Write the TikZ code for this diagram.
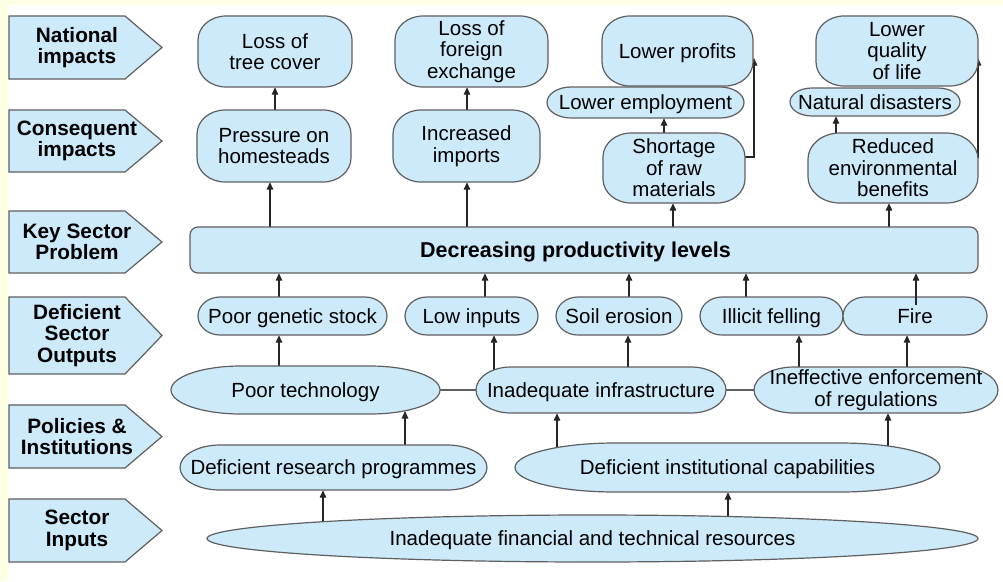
\documentclass[tikz,border=0pt]{standalone}
\usepackage{fontspec}
\setmainfont{Liberation Sans}
\usetikzlibrary{arrows.meta,calc}
\pgfdeclarelayer{paper}
\pgfdeclarelayer{background}
\pgfsetlayers{paper,background,main}
\definecolor{nodeblue}{RGB}{204,234,250}
\definecolor{edgegrey}{RGB}{95,95,95}
\definecolor{paleyellow}{RGB}{255,255,228}

\tikzset{
  shapeline/.style={draw=edgegrey, fill=nodeblue, line width=1.2pt},
  boxtext/.style={inner sep=0pt, align=center, font=\fontsize{20.5}{21.5}\selectfont},
  oneline/.style={text height=14.7pt, text depth=0pt},
  rowtext/.style={inner sep=0pt, align=center, font=\bfseries\fontsize{20.8}{21.5}\selectfont},
  arr/.style={draw=black!85, line width=1.3pt, -{Triangle[length=7.5pt,width=6.5pt]}},
  link/.style={draw=edgegrey, line width=1.3pt},
}

% box with elliptical corners: name, cx, cy, width, height, rx, ry, text, node options  (cy measured downward)
\newcommand\rbox[9]{%
  \pgfmathsetmacro\bxa{#2-#4/2}\pgfmathsetmacro\bxb{#2+#4/2}%
  \pgfmathsetmacro\bya{-#3+#5/2}\pgfmathsetmacro\byb{-#3-#5/2}%
  \path[shapeline] (\bxa+#6,\bya) -- (\bxb-#6,\bya)
    arc[start angle=90,end angle=0,x radius=#6,y radius=#7] -- (\bxb,\byb+#7)
    arc[start angle=0,end angle=-90,x radius=#6,y radius=#7] -- (\bxa+#6,\byb)
    arc[start angle=270,end angle=180,x radius=#6,y radius=#7] -- (\bxa,\bya-#7)
    arc[start angle=180,end angle=90,x radius=#6,y radius=#7] -- cycle;
  \node[boxtext, minimum width=#4pt, minimum height=#5pt, #9] (#1) at (#2,-#3) {#8};
}

% level tag on the left: name, top, bottom, text
\newcommand\leveltag[4]{%
  \pgfmathsetmacro\lmid{-(#2+#3)/2}%
  \path[shapeline] (9,-#2) -- (125,-#2) -- (162,\lmid) -- (125,-#3) -- (9,-#3) -- cycle;
  \node[rowtext] (#1) at (77,\lmid) {#4};
}

\begin{document}
\begin{tikzpicture}[x=1pt,y=1pt]
  % page background
  \begin{pgfonlayer}{paper}
    \fill[white] (0,0) rectangle (1003,-581);
    \fill[paleyellow] (0,0) rectangle (1003,-5);
    \fill[paleyellow] (0,0) rectangle (8,-581);
  \end{pgfonlayer}
  \useasboundingbox (0,0) rectangle (1003,-581);

  % level tags
  \leveltag{nat}{16}{79}{National\\impacts}
  \leveltag{con}{110}{172}{Consequent\\impacts}
  \leveltag{key}{211}{273}{Key Sector\\Problem}
  \leveltag{dso}{297}{374}{Deficient\\Sector\\Outputs}
  \leveltag{pol}{405}{468}{Policies \&\\Institutions}
  \leveltag{sin}{499}{562}{Sector\\Inputs}

  % national impacts
  \rbox{ltc}{275}{51.5}{154}{71}{28}{24}{Loss of\\tree cover}{}
  \rbox{lfe}{471.5}{51.5}{153}{71}{28}{24}{Loss of\\foreign\\exchange}{}
  \rbox{lpr}{677.5}{51}{151}{70}{28}{24}{Lower profits}{oneline}
  \rbox{lql}{897}{51}{162}{70}{28}{24}{Lower\\quality\\of life}{}
  \rbox{lem}{645.5}{102.5}{197}{31}{24}{15.5}{Lower employment}{oneline}
  \rbox{nds}{875}{102}{170}{28}{22}{14}{Natural disasters}{oneline}

  % consequent impacts
  \rbox{poh}{274}{146}{154}{72}{28}{24}{Pressure on\\homesteads}{}
  \rbox{inim}{466.5}{146}{147}{72}{28}{24}{Increased\\imports}{}
  \rbox{sor}{674}{168}{142}{70}{28}{24}{Shortage\\of raw\\materials}{}
  \rbox{reb}{893}{168}{170}{70}{32}{26}{Reduced\\environmental\\benefits}{}

  % key sector problem
  \rbox{dpl}{584}{250}{788}{46}{8}{8}{\bfseries\fontsize{21.5}{22}\selectfont Decreasing productivity levels\hspace*{17pt}}{oneline}

  % deficient sector outputs
  \rbox{pgs}{292.5}{316}{189}{38}{22}{19}{Poor genetic stock}{oneline}
  \rbox{lin}{471.5}{316}{133}{38}{22}{19}{Low inputs}{oneline}
  \rbox{soe}{619}{316}{126}{38}{22}{19}{Soil erosion}{oneline}
  \rbox{ilf}{771.5}{316}{143}{38}{22}{19}{Illicit felling}{oneline}
  \rbox{fir}{915}{316}{144}{38}{22}{19}{Fire}{oneline}

  % policies and institutions
  \rbox{ptc}{305.5}{390}{269}{48}{70}{24}{Poor technology}{oneline}
  \rbox{iin}{601}{390}{250}{46}{35}{23}{Inadequate infrastructure}{oneline}
  \rbox{iee}{876}{390}{244}{46}{40}{23}{Ineffective enforcement\\of regulations}{}
  \rbox{drp}{333.5}{467.5}{307}{45}{40}{22.5}{Deficient research programmes}{oneline}
  \rbox{dic}{727.5}{467.5}{425}{49}{100}{24.5}{Deficient institutional capabilities}{oneline}

  % sector inputs
  \rbox{ift}{592.5}{538.5}{771}{47}{385.5}{23.5}{Inadequate financial and technical resources}{oneline}

  % free ends of the two elbow connectors
  \coordinate (lprin) at (754,-58);
  \coordinate (lqlin) at (978,-58);

  \begin{pgfonlayer}{background}
    % consequent -> national
    \draw[arr] (poh.center -| 275,0) -- (ltc.south -| 275,0);
    \draw[arr] (inim.center -| 467,0) -- (lfe.south -| 467,0);
    \draw[arr] (sor.center -| 664,0) -- (lem.south -| 664,0);
    \draw[arr] (sor.center |- 0,-157) -| (lprin);
    \draw[arr] (reb.center -| 836,0) -- (nds.south -| 836,0);
    \draw[arr] (reb.center |- 0,-157) -| (lqlin);

    % key problem -> consequent
    \draw[arr] (dpl.center -| 270,0) -- (poh.south -| 270,0);
    \draw[arr] (dpl.center -| 467,0) -- (inim.south -| 467,0);
    \draw[arr] (dpl.center -| 673,0) -- (sor.south -| 673,0);
    \draw[arr] (dpl.center -| 889,0) -- (reb.south -| 889,0);

    % outputs -> key problem
    \draw[arr] (pgs.center -| 279,0) -- (dpl.south -| 279,0);
    \draw[arr] (lin.center -| 485,0) -- (dpl.south -| 485,0);
    \draw[arr] (soe.center -| 629,0) -- (dpl.south -| 629,0);
    \draw[arr] (ilf.center -| 746,0) -- (dpl.south -| 746,0);

    % policies -> outputs
    \draw[arr] (ptc.center -| 279,0) -- (pgs.south -| 279,0);
    \draw[arr] (iin.center -| 494,0) -- (lin.south -| 494,0);
    \draw[arr] (iin.center -| 628,0) -- (soe.south -| 628,0);
    \draw[arr] (iee.center -| 799,0) -- (ilf.south -| 799,0);
    \draw[arr] (iee.center -| 907,0) -- (fir.south -| 907,0);
    \draw[link] (ptc.center) -- (iin.center);
    \draw[link] (iin.center) -- (iee.center);

    % institutions -> policies
    \draw[arr] (drp.center -| 405,0) -- ($(ptc.south -| 405,0)+(0,3.2)$);
    \draw[arr] (dic.center -| 557,0) -- (iin.south -| 557,0);
    \draw[arr] (dic.center -| 888,0) -- (iee.south -| 888,0);

    % inputs -> institutions
    \draw[arr] (ift.center -| 323,0) -- (drp.south -| 323,0);
    \draw[arr] (ift.center -| 728,0) -- (dic.south -| 728,0);
  \end{pgfonlayer}

  % the fire connector starts just inside its box
  \draw[arr] ($(fir.north -| 916,0)+(0,-8)$) -- (dpl.south -| 916,0);
\end{tikzpicture}
\end{document}
